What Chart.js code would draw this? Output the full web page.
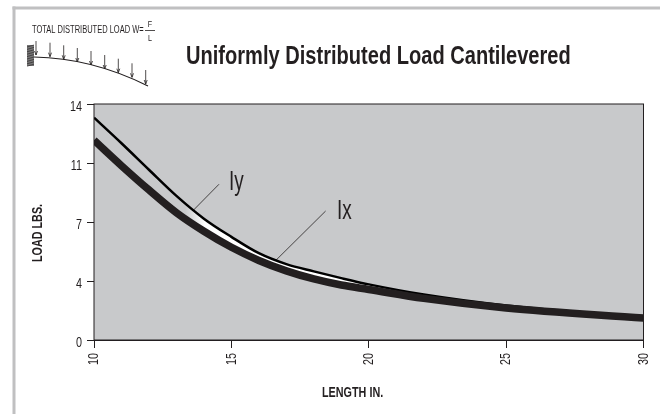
<!DOCTYPE html>
<html>
<head>
<meta charset="utf-8">
<script src="https://cdn.jsdelivr.net/npm/chart.js@4/dist/chart.umd.min.js"></script>
<style>
  html, body { margin: 0; padding: 0; background: #fff; }
  #wrap { width: 660px; height: 414px; position: relative; }
</style>
</head>
<body>
<div id="wrap"><canvas id="chart" width="660" height="414"></canvas></div>
<script>
const lengths = [10, 11, 12, 13, 14, 15, 16, 17, 18, 19, 20, 22, 25, 30];
const iyValues = [13.19, 11.67, 10.1, 8.55, 7.2, 6.12, 5.15, 4.5, 4.07, 3.67, 3.3, 2.7, 2.05, 1.35];
const ixValues = [11.85, 10.34, 8.9, 7.55, 6.45, 5.5, 4.72, 4.1, 3.62, 3.26, 3.0, 2.47, 1.9, 1.3];
const yTicks = [0, 3.5, 7, 10.5, 14];
const xTicks = [10, 15, 20, 25, 30];
const iyLeaderX = [13.6, 14.55];
const iyLeaderY = [7.67, 9.24];
const ixLeaderX = [16.51, 18.43];
const ixLeaderY = [4.55, 7.65];

const fontName = '"Liberation Sans", sans-serif';
const ink = "#231f20";

/* no narrow font installed, so squeeze every label sideways */
const canvas = document.getElementById("chart");
const ctx2d = canvas.getContext("2d");
const rawFillText = ctx2d.fillText.bind(ctx2d);
let squeeze = 0.72;
ctx2d.fillText = function (text, x, y) {
  ctx2d.save();
  ctx2d.translate(x, y);
  ctx2d.scale(squeeze, 1);
  rawFillText(text, 0, 0);
  ctx2d.restore();
};

/* the gap between the curves only turns white past about 13.5 in */
const gapFill = ctx2d.createLinearGradient(185, 0, 205, 0);
gapFill.addColorStop(0, "rgba(255,255,255,0)");
gapFill.addColorStop(1, "#fff");

function toPoints(xs, ys) {
  return xs.map((x, i) => ({ x: x, y: ys[i] }));
}

/* gray plot background and top/right edges */
const plotBox = {
  id: "plotBox",
  beforeDatasetsDraw(c) {
    const a = c.chartArea, ctx = c.ctx;
    ctx.save();
    ctx.fillStyle = "#c8c9cb";
    ctx.fillRect(a.left, a.top, a.width, a.height);
    ctx.restore();
  },
  afterDatasetsDraw(c) {
    const a = c.chartArea, ctx = c.ctx;
    ctx.save();
    ctx.strokeStyle = ink;
    ctx.lineWidth = 1;
    ctx.strokeRect(a.left, a.top, a.width, a.height);
    ctx.restore();
  }
};

/* frame, titles, beam diagram and curve labels */
const extras = {
  id: "extras",
  afterDraw(c) {
    const ctx = c.ctx;
    ctx.save();
    ctx.fillStyle = "#c0c0c1";
    ctx.fillRect(12.5, 6.5, 647.5, 3);
    ctx.fillRect(12.5, 6.5, 3, 407.5);

    ctx.fillStyle = ink;
    ctx.textBaseline = "alphabetic";
    ctx.textAlign = "left";

    squeeze = 0.787;
    ctx.font = "bold 25.5px " + fontName;
    ctx.fillText("Uniformly Distributed Load Cantilevered", 186, 63.5);

    squeeze = 0.72;
    ctx.font = "bold 15px " + fontName;
    ctx.fillText("LENGTH IN.", 322, 397);
    ctx.save();
    ctx.translate(41.5, 233);
    ctx.rotate(-Math.PI / 2);
    ctx.textAlign = "center";
    ctx.fillText("LOAD LBS.", 0, 0);
    ctx.restore();

    squeeze = 0.7;
    ctx.font = "27px " + fontName;
    ctx.fillText("Iy", 229, 190);
    ctx.fillText("Ix", 337, 219);

    ctx.font = "10px " + fontName;
    squeeze = 0.75;
    ctx.fillText("TOTAL DISTRIBUTED LOAD W=", 32, 33);
    ctx.textAlign = "center";
    ctx.font = "9.5px " + fontName;
    ctx.fillText("F", 150, 27);
    ctx.fillText("L", 150, 41);
    squeeze = 0.72;
    ctx.strokeStyle = ink;
    ctx.lineWidth = 0.8;
    ctx.beginPath(); ctx.moveTo(145, 30.5); ctx.lineTo(155, 30.5); ctx.stroke();

    // wall hatching
    ctx.fillStyle = "#777";
    ctx.fillRect(27, 45, 7, 21);
    ctx.strokeStyle = ink;
    ctx.lineWidth = 0.6;
    for (let i = 0; i < 9; i++) {
      ctx.beginPath(); ctx.moveTo(27, 47 + i * 2.4); ctx.lineTo(34, 45 + i * 2.4); ctx.stroke();
    }

    // beam
    ctx.lineWidth = 1.2;
    ctx.beginPath();
    ctx.moveTo(34, 57);
    ctx.quadraticCurveTo(92, 58, 148, 86);
    ctx.stroke();

    // load arrows
    ctx.lineWidth = 0.8;
    const ax = [36, 50, 63.7, 77.3, 91, 104.7, 118.3, 132, 145.7];
    const tipY = [55, 56.7, 59.3, 62, 65, 69, 72.7, 77.3, 84];
    ax.forEach((x, i) => {
      ctx.beginPath();
      ctx.moveTo(x, tipY[i] - 14);
      ctx.lineTo(x, tipY[i]);
      ctx.moveTo(x - 1.5, tipY[i] - 4);
      ctx.lineTo(x, tipY[i]);
      ctx.lineTo(x + 1.5, tipY[i] - 4);
      ctx.stroke();
    });
    ctx.restore();
  }
};

new Chart(canvas, {
  type: "line",
  data: {
    datasets: [
      { label: "Ix", data: toPoints(lengths, ixValues), borderColor: ink, borderWidth: 7.5, borderCapStyle: "butt", pointRadius: 0, cubicInterpolationMode: "monotone" },
      { label: "Iy", data: toPoints(lengths, iyValues), borderColor: "#000", borderWidth: 2.5, pointRadius: 0, cubicInterpolationMode: "monotone", fill: { target: 0 }, backgroundColor: gapFill },
      { label: "Iy leader", data: toPoints(iyLeaderX, iyLeaderY), borderColor: ink, borderWidth: 0.8, pointRadius: 0 },
      { label: "Ix leader", data: toPoints(ixLeaderX, ixLeaderY), borderColor: ink, borderWidth: 0.8, pointRadius: 0 }
    ]
  },
  options: {
    responsive: false,
    animation: false,
    layout: { padding: { left: 0, right: 16.5, top: 104, bottom: 0 } },
    plugins: {
      legend: { display: false },
      tooltip: { enabled: false },
      title: { display: false }
    },
    scales: {
      x: {
        type: "linear",
        min: 10,
        max: 30,
        afterBuildTicks(axis) { axis.ticks = xTicks.map(v => ({ value: v })); },
        afterFit(axis) { axis.height = 74; axis.paddingLeft = 0; axis.paddingRight = 0; },
        grid: { drawOnChartArea: false, tickLength: 8, color: ink, tickColor: ink },
        border: { color: ink },
        ticks: { autoSkip: false, color: ink, minRotation: 90, maxRotation: 90, font: { family: fontName, size: 15 }, padding: 5 }
      },
      y: {
        min: 0,
        max: 14,
        afterBuildTicks(axis) { axis.ticks = yTicks.map(v => ({ value: v })); },
        afterFit(axis) { axis.width = 94; },
        grid: { drawOnChartArea: false, tickLength: 7, color: ink, tickColor: ink },
        border: { color: ink },
        ticks: { autoSkip: false, color: ink, font: { family: fontName, size: 15 }, padding: 5, labelOffset: 2.5, callback: v => Math.round(v) }
      }
    }
  },
  plugins: [plotBox, extras]
});
</script>
</body>
</html>
